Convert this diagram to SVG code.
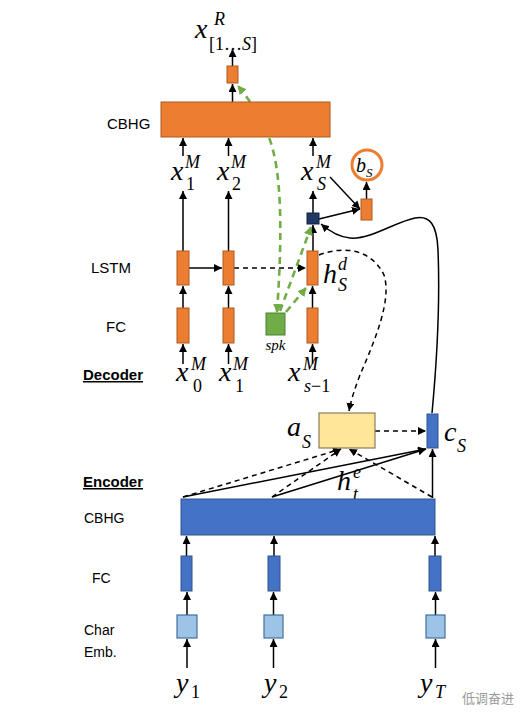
<svg xmlns="http://www.w3.org/2000/svg" width="530" height="722" viewBox="0 0 530 722">
<style>
.or{fill:#ED7D31;stroke:#AE5A21;stroke-width:1}
.bl{fill:#4472C4;stroke:#2F528F;stroke-width:1}
.lb{fill:#9DC3E6;stroke:#41719C;stroke-width:1.2}
.ln{fill:none;stroke:#000;stroke-width:1.5}
.dl{fill:none;stroke:#000;stroke-width:1.5;stroke-dasharray:5 4}
.gl{fill:none;stroke:#70AD47;stroke-width:2.6;stroke-dasharray:7 5}
.v{font-family:"Liberation Serif",serif;font-style:italic;font-size:28px;fill:#000}
.s{font-size:18px}
.t{font-family:"Liberation Sans",Arial,sans-serif;font-size:15px;fill:#000}
.t2{font-family:"Liberation Sans",Arial,sans-serif;font-size:14px;fill:#000}
.u{font-weight:bold;text-decoration:underline}
</style>
<defs>
<marker id="ah" viewBox="0 0 10 10" refX="10" refY="5" markerWidth="8" markerHeight="8" markerUnits="userSpaceOnUse" orient="auto"><path d="M0,0 L10,5 L0,10 z" fill="#000"/></marker>
<marker id="ga" viewBox="0 0 10 10" refX="9" refY="5" markerWidth="9" markerHeight="9" markerUnits="userSpaceOnUse" orient="auto-start-reverse"><path d="M0,0 L10,5 L0,10 z" fill="#70AD47"/></marker>
</defs>

<g id="labels">
<text class="t" x="107" y="129">CBHG</text>
<text class="t" x="91" y="273">LSTM</text>
<text class="t" x="106" y="332">FC</text>
<text class="t u" x="83" y="380">Decoder</text>
<text class="t u" x="83" y="487">Encoder</text>
<text class="t2" x="84" y="523">CBHG</text>
<text class="t2" x="92" y="583">FC</text>
<text class="t2" x="84" y="635">Char</text>
<text class="t2" x="84" y="657">Emb.</text>
</g>

<g id="connectors">
<line class="ln" x1="232.5" y1="102" x2="232.5" y2="84" marker-end="url(#ah)"/>
<line class="ln" x1="232.5" y1="66" x2="232.5" y2="49" marker-end="url(#ah)"/>
<line class="ln" x1="183" y1="156" x2="183" y2="138" marker-end="url(#ah)"/>
<line class="ln" x1="228.5" y1="156" x2="228.5" y2="138" marker-end="url(#ah)"/>
<line class="ln" x1="313" y1="156" x2="313" y2="138" marker-end="url(#ah)"/>
<line class="ln" x1="183" y1="251" x2="183" y2="191" marker-end="url(#ah)"/>
<line class="ln" x1="228.5" y1="251" x2="228.5" y2="191" marker-end="url(#ah)"/>
<line class="ln" x1="313" y1="251" x2="313" y2="225" marker-end="url(#ah)"/>
<line class="ln" x1="313" y1="213" x2="313" y2="191" marker-end="url(#ah)"/>
<line class="ln" x1="183" y1="308" x2="183" y2="286" marker-end="url(#ah)"/>
<line class="ln" x1="228.5" y1="308" x2="228.5" y2="286" marker-end="url(#ah)"/>
<line class="ln" x1="312.5" y1="308" x2="312.5" y2="286" marker-end="url(#ah)"/>
<line class="ln" x1="183" y1="364" x2="183" y2="344" marker-end="url(#ah)"/>
<line class="ln" x1="228.5" y1="364" x2="228.5" y2="344" marker-end="url(#ah)"/>
<line class="ln" x1="312.5" y1="364" x2="312.5" y2="344" marker-end="url(#ah)"/>
<line class="ln" x1="189" y1="268" x2="222" y2="268" marker-end="url(#ah)"/>
<line class="dl" x1="234" y1="268" x2="306" y2="268" marker-end="url(#ah)"/>
<line class="ln" x1="330" y1="177" x2="360" y2="209" marker-end="url(#ah)"/>
<line class="ln" x1="319" y1="219" x2="360" y2="209" marker-end="url(#ah)"/>
<line class="ln" x1="366.5" y1="199" x2="366.5" y2="182" marker-end="url(#ah)"/>
<path class="ln" d="M432,413 C437,360 440,300 438,250 C437,225 430,215 415,218 C395,222 370,240 350,238 C338,237 328,230 321,224" marker-end="url(#ah)"/>
<path class="dl" d="M319,255 C345,245 372,250 384,275 C392,300 375,340 360,375 C355,388 351,400 349,411" marker-end="url(#ah)"/>
<line class="dl" x1="375" y1="431" x2="426" y2="431" marker-end="url(#ah)"/>
<line class="ln" x1="183" y1="497" x2="426" y2="449" marker-end="url(#ah)"/>
<line class="ln" x1="272" y1="497" x2="426" y2="449" marker-end="url(#ah)"/>
<line class="ln" x1="432.5" y1="498" x2="432.5" y2="449" marker-end="url(#ah)"/>
<line class="dl" x1="183" y1="497" x2="341" y2="449" marker-end="url(#ah)"/>
<line class="dl" x1="272" y1="497" x2="341" y2="449" marker-end="url(#ah)"/>
<line class="dl" x1="432" y1="497" x2="349" y2="449" marker-end="url(#ah)"/>
<line class="ln" x1="186.5" y1="556" x2="186.5" y2="536" marker-end="url(#ah)"/>
<line class="ln" x1="274" y1="556" x2="274" y2="536" marker-end="url(#ah)"/>
<line class="ln" x1="435" y1="556" x2="435" y2="536" marker-end="url(#ah)"/>
<line class="ln" x1="187" y1="615" x2="187" y2="592" marker-end="url(#ah)"/>
<line class="ln" x1="273.5" y1="615" x2="273.5" y2="592" marker-end="url(#ah)"/>
<line class="ln" x1="435.5" y1="615" x2="435.5" y2="592" marker-end="url(#ah)"/>
<line class="ln" x1="187" y1="668" x2="187" y2="639" marker-end="url(#ah)"/>
<line class="ln" x1="273.5" y1="668" x2="273.5" y2="639" marker-end="url(#ah)"/>
<line class="ln" x1="435.5" y1="668" x2="435.5" y2="639" marker-end="url(#ah)"/>
<path class="gl" d="M277,312 C282,240 283,170 268,135 C260,115 248,98 238,86" marker-start="url(#ga)" marker-end="url(#ga)"/>
<line class="gl" x1="280" y1="311" x2="311" y2="227" marker-end="url(#ga)"/>
<line class="gl" x1="286" y1="312" x2="306" y2="288" marker-end="url(#ga)"/>
</g>

<g id="out-rect"><rect class="or" x="227" y="66" width="11" height="17"/></g>
<g id="out-label"><text class="v" x="195" y="38">x<tspan class="s" x="214" y="25">R</tspan><tspan class="s" x="209" y="50" font-style="normal">[1…</tspan><tspan class="s">S</tspan><tspan class="s" font-style="normal">]</tspan></text></g>
<g id="dec-cbhg"><rect class="or" x="161" y="102" width="169" height="35"/></g>

<g id="dec-out1"><text class="v" x="171" y="180">x<tspan class="s" x="185" y="168">M</tspan><tspan class="s" x="186" y="190" font-style="normal">1</tspan></text></g>
<g id="dec-out2"><text class="v" x="217" y="180">x<tspan class="s" x="231" y="168">M</tspan><tspan class="s" x="232" y="190" font-style="normal">2</tspan></text></g>
<g id="dec-outS"><text class="v" x="301" y="180">x<tspan class="s" x="316" y="168">M</tspan><tspan class="s" x="317" y="190">S</tspan></text></g>

<g id="bs"><circle cx="367" cy="165" r="15" fill="#fff" stroke="#ED7D31" stroke-width="3"/><text class="v" x="356" y="172" style="font-size:20px">b<tspan style="font-size:13px" y="177">S</tspan></text></g>
<g id="bs-rect"><rect class="or" x="361" y="199" width="11" height="21"/></g>
<g id="attn-sq"><rect x="307" y="213" width="12" height="11" fill="#1F3864" stroke="#0F1F40" stroke-width="1"/></g>

<g id="lstm1"><rect class="or" x="177" y="251" width="12" height="34"/></g>
<g id="lstm2"><rect class="or" x="223" y="251" width="11" height="34"/></g>
<g id="lstm3"><rect class="or" x="307" y="251" width="11" height="34"/><text class="v" x="323" y="283">h<tspan class="s" x="338" y="270">d</tspan><tspan class="s" x="338" y="291">S</tspan></text></g>

<g id="fc1"><rect class="or" x="177" y="308" width="12" height="35"/></g>
<g id="fc2"><rect class="or" x="223" y="308" width="11" height="35"/></g>
<g id="fc3"><rect class="or" x="307" y="308" width="11" height="35"/></g>
<g id="spk"><rect x="266" y="313" width="19" height="22" fill="#70AD47" stroke="#507E32" stroke-width="1"/><text class="v" x="275.5" y="350" text-anchor="middle" style="font-size:15px">spk</text></g>

<g id="dec-in0"><text class="v" x="176" y="381">x<tspan class="s" x="191" y="370">M</tspan><tspan class="s" x="193" y="392" font-style="normal">0</tspan></text></g>
<g id="dec-in1"><text class="v" x="219" y="381">x<tspan class="s" x="233" y="370">M</tspan><tspan class="s" x="235" y="392" font-style="normal">1</tspan></text></g>
<g id="dec-in2"><text class="v" x="288" y="381">x<tspan class="s" x="303" y="370">M</tspan><tspan class="s" x="304" y="392">s</tspan><tspan class="s" font-style="normal">−1</tspan></text></g>

<g id="attention"><rect x="319" y="413" width="56" height="35" fill="#FFE699" stroke="#8A7D55" stroke-width="1.2"/><text class="v" x="287" y="436">a<tspan class="s" x="302" y="448">S</tspan></text></g>
<g id="context"><rect class="bl" x="427" y="414" width="11" height="34"/><text class="v" x="444" y="441">c<tspan class="s" x="457" y="452">S</tspan></text></g>
<g id="he"><text class="v" x="337" y="490">h<tspan class="s" x="353" y="478">e</tspan><tspan class="s" x="353" y="500">t</tspan></text></g>

<g id="enc-cbhg"><rect class="bl" x="181" y="499" width="254" height="36"/></g>
<g id="enc-fc1"><rect class="bl" x="181" y="556" width="11" height="35"/></g>
<g id="enc-fc2"><rect class="bl" x="268" y="556" width="12" height="35"/></g>
<g id="enc-fc3"><rect class="bl" x="429" y="556" width="12" height="35"/></g>
<g id="emb1"><rect class="lb" x="177" y="615" width="20" height="23"/></g>
<g id="emb2"><rect class="lb" x="264" y="615" width="19" height="23"/></g>
<g id="emb3"><rect class="lb" x="426" y="615" width="19" height="23"/></g>

<g id="y1"><text class="v" x="176" y="692">y<tspan class="s" x="191" y="698" font-style="normal">1</tspan></text></g>
<g id="y2"><text class="v" x="264" y="692">y<tspan class="s" x="279" y="698" font-style="normal">2</tspan></text></g>
<g id="yT"><text class="v" x="420" y="692">y<tspan class="s" x="435" y="698">T</tspan></text></g>
<g id="watermark"><text x="462" y="703" font-family="'Noto Sans CJK SC',sans-serif" font-size="13" fill="#9a9a9a">低调奋进</text></g>
</svg>
